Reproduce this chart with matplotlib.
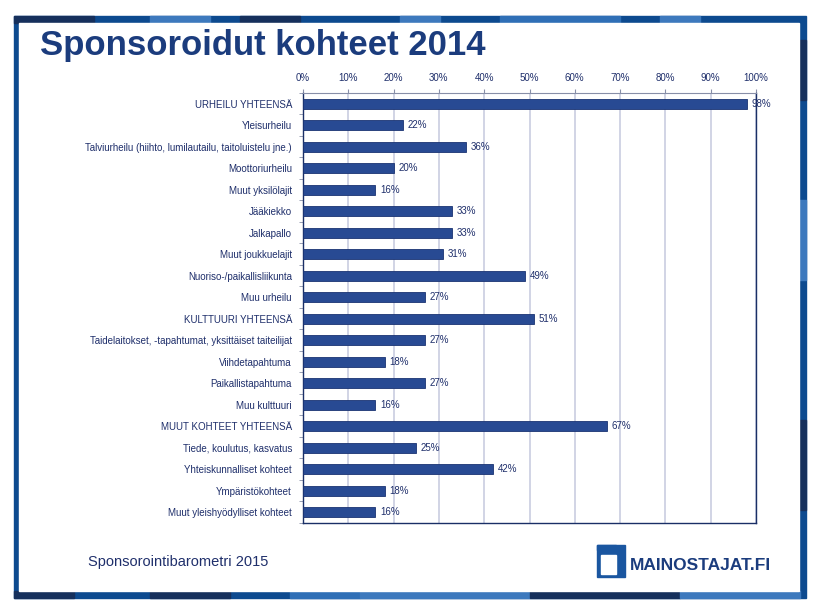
import matplotlib.pyplot as plt
from matplotlib.patches import Rectangle

categories = [
    "URHEILU YHTEENSÄ", "Yleisurheilu",
    "Talviurheilu (hiihto, lumilautailu, taitoluistelu jne.)",
    "Moottoriurheilu", "Muut yksilölajit", "Jääkiekko", "Jalkapallo",
    "Muut joukkuelajit", "Nuoriso-/paikallisliikunta", "Muu urheilu",
    "KULTTUURI YHTEENSÄ",
    "Taidelaitokset, -tapahtumat, yksittäiset taiteilijat",
    "Viihdetapahtuma", "Paikallistapahtuma", "Muu kulttuuri",
    "MUUT KOHTEET YHTEENSÄ", "Tiede, koulutus, kasvatus",
    "Yhteiskunnalliset kohteet", "Ympäristökohteet",
    "Muut yleishyödylliset kohteet",
]
values = [98, 22, 36, 20, 16, 33, 33, 31, 49, 27, 51, 27, 18, 27, 16, 67, 25, 42, 18, 16]
ticks = list(range(0, 101, 10))

plt.rcParams['font.family'] = ['Liberation Sans', 'DejaVu Sans']
navy = "#1f2f6b"
bar_col = "#284a93"
W, H = 826, 608

fig = plt.figure(figsize=(W / 100, H / 100), dpi=100)

# patterned blue frame
bg = fig.add_axes([0, 0, 1, 1], zorder=-5)
bg.set_xlim(0, W)
bg.set_ylim(H, 0)
bg.axis('off')
bg.add_patch(Rectangle((14, 16), 792, 582, color="#0d4a8f"))
for x0, w, c in [(14, 80, "#16305c"), (150, 60, "#3d79bd"), (240, 60, "#16305c"),
                 (400, 40, "#3d79bd"), (500, 120, "#2f6fb6"), (660, 40, "#3d79bd")]:
    bg.add_patch(Rectangle((x0, 16), w, 7, color=c))
for x0, w, c in [(14, 60, "#16305c"), (150, 80, "#16305c"), (290, 70, "#2f6fb6"),
                 (360, 170, "#3d79bd"), (530, 150, "#16305c"), (680, 120, "#3d79bd")]:
    bg.add_patch(Rectangle((x0, 591), w, 7, color=c))
for y0, h, c in [(40, 60, "#16305c"), (200, 80, "#3d79bd"), (420, 90, "#16305c")]:
    bg.add_patch(Rectangle((799, y0), 7, h, color=c))
bg.add_patch(Rectangle((19, 23), 780, 568, color="white"))

fig.text(40, 45, "Sponsoroidut kohteet 2014", transform=bg.transData,
         fontsize=25, fontweight='bold', color="#1b3c7d", va='center',
         family=['Liberation Sans Narrow', 'Liberation Sans'])
fig.text(88, 562, "Sponsorointibarometri 2015", transform=bg.transData,
         fontsize=10.5, color=navy, va='center')

# logo
bg.add_patch(Rectangle((597, 545), 28, 32, color="#1a56a0"))
bg.add_patch(Rectangle((601, 555), 15, 19, color="white"))
bg.add_patch(Rectangle((597, 545), 19, 5, color="#1a56a0"))
fig.text(630, 566, "MAINOSTAJAT.FI", transform=bg.transData, fontsize=12.5,
         fontweight='bold', color="#1b3c7d", va='center')

# chart
left, right, top, bottom = 303, 756, 93, 523
ax = fig.add_axes([left / W, 1 - bottom / H, (right - left) / W, (bottom - top) / H])
y = list(range(len(categories)))
ax.barh(y, values, height=0.48, color=bar_col, edgecolor="#1a3372", linewidth=0.6, zorder=3)
for yi, v in zip(y, values):
    ax.text(v + 1, yi, f"{v}%", va='center', ha='left', fontsize=7, color=navy, zorder=4)
ax.set_ylim(len(categories) - 0.5, -0.5)
ax.set_xlim(0, 100)
ax.set_yticks(y)
ax.set_yticklabels(categories, fontsize=7, color=navy)
ax.set_yticks([i - 0.5 for i in range(len(categories) + 1)], minor=True)
ax.tick_params(axis='y', which='major', length=0, pad=8)
ax.tick_params(axis='y', which='minor', length=3, color="#888fa8")
ax.xaxis.tick_top()
ax.set_xticks(ticks)
ax.set_xticklabels([f"{t}%" for t in ticks], fontsize=7, color=navy)
ax.tick_params(axis='x', length=3, color="#888fa8", pad=4)
ax.grid(axis='x', color="#c9cde0", linewidth=1.2, zorder=0)
for s in ['left', 'bottom', 'right']:
    ax.spines[s].set_color("#1a2f66")
    ax.spines[s].set_linewidth(1.0)
ax.spines['top'].set_color("#888fa8")

fig.savefig("out.png", dpi=100)
